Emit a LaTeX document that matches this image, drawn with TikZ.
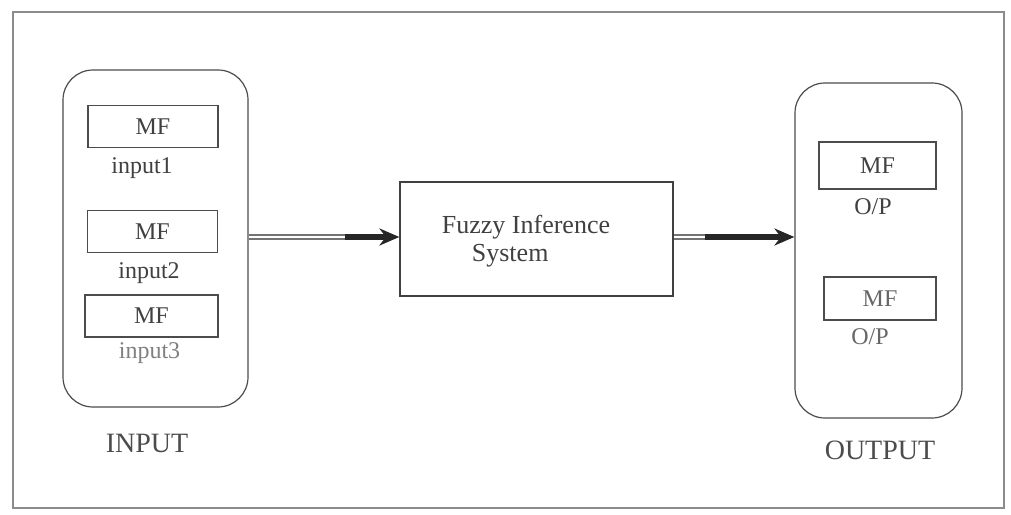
\documentclass[tikz,border=0pt]{standalone}
\usepackage{fontspec}
\setmainfont{Liberation Serif}
\usetikzlibrary{arrows.meta}

\tikzset{
  frame/.style={draw=black!45, line width=0.8pt},
  group/.style={draw=black!70, line width=0.6pt, rounded corners=15pt},
  mfbox/.style={draw=black!70, line width=0.6pt, minimum width=65pt, minimum height=21pt,
    inner sep=0pt, text=black!75, font=\fontsize{12}{12}\selectfont},
  fisbox/.style={draw=black!75, line width=0.6pt, minimum width=136.5pt, minimum height=57pt},
  tag/.style={text=black!75, inner sep=0pt, font=\fontsize{12}{12}\selectfont},
  title/.style={text=black!70, inner sep=0pt, font=\fontsize{14}{14}\selectfont},
  pipe/.style={draw=black!55, double=white, double distance=1.2pt, line width=0.7pt},
  feed/.style={draw=black!85, line width=2.8pt, -{Stealth[length=10pt,width=8.5pt]}},
}

\begin{document}
\begin{tikzpicture}[x=0.5pt,y=-0.5pt]
        \useasboundingbox (0,0) rectangle (1011,514);
        \draw[frame] (13,12) rectangle (1004,508);

        % input side
        \node[group, minimum width=92.5pt, minimum height=168.5pt] (inbox) at (155.5,238.5) {};
        \node[mfbox] (mf1) at (153,126.5) {MF};
        \node[mfbox] (mf2) at (152.5,231.5) {MF};
        \node[mfbox, minimum width=66.5pt] (mf3) at (151.5,316) {MF};
        \node[tag] (in1) at (142,168) {input1};
        \node[tag] (in2) at (149,273) {input2};
        \node[tag, text=black!50] (in3) at (149.5,353) {input3};
        \node[title] (inlbl) at (147,443) {INPUT};

        % inference block
        \node[fisbox] (fis) at (536.5,239) {};
        \node[tag, align=left, font=\fontsize{13}{14}\selectfont] (fistxt) at (526,241)
          {Fuzzy Inference\\\hspace*{15pt}System};

        % output side
        \node[group, minimum width=83.5pt, minimum height=167.5pt] (outbox) at (878.5,250.5) {};
        \node[mfbox, minimum width=58.5pt, minimum height=23.5pt] (op1) at (877.5,165.5) {MF};
        \node[mfbox, minimum width=56pt, minimum height=21.5pt, text=black!60] (op2) at (880,298.5) {MF};
        \node[tag] (oplbl1) at (873,207) {O/P};
        \node[tag, text=black!60] (oplbl2) at (870,337) {O/P};
        \node[title] (outlbl) at (880,450) {OUTPUT};

        % connectors
        \coordinate (a1) at (345,237);
        \coordinate (a2) at (705,237);
        \draw[pipe] (inbox.east |- a1) -- (a1);
        \draw[feed] (a1) -- (a1 -| fis.west);
        \draw[pipe] (a2 -| fis.east) -- (a2);
        \draw[feed] (a2) -- (a2 -| outbox.west);
\end{tikzpicture}
\end{document}
